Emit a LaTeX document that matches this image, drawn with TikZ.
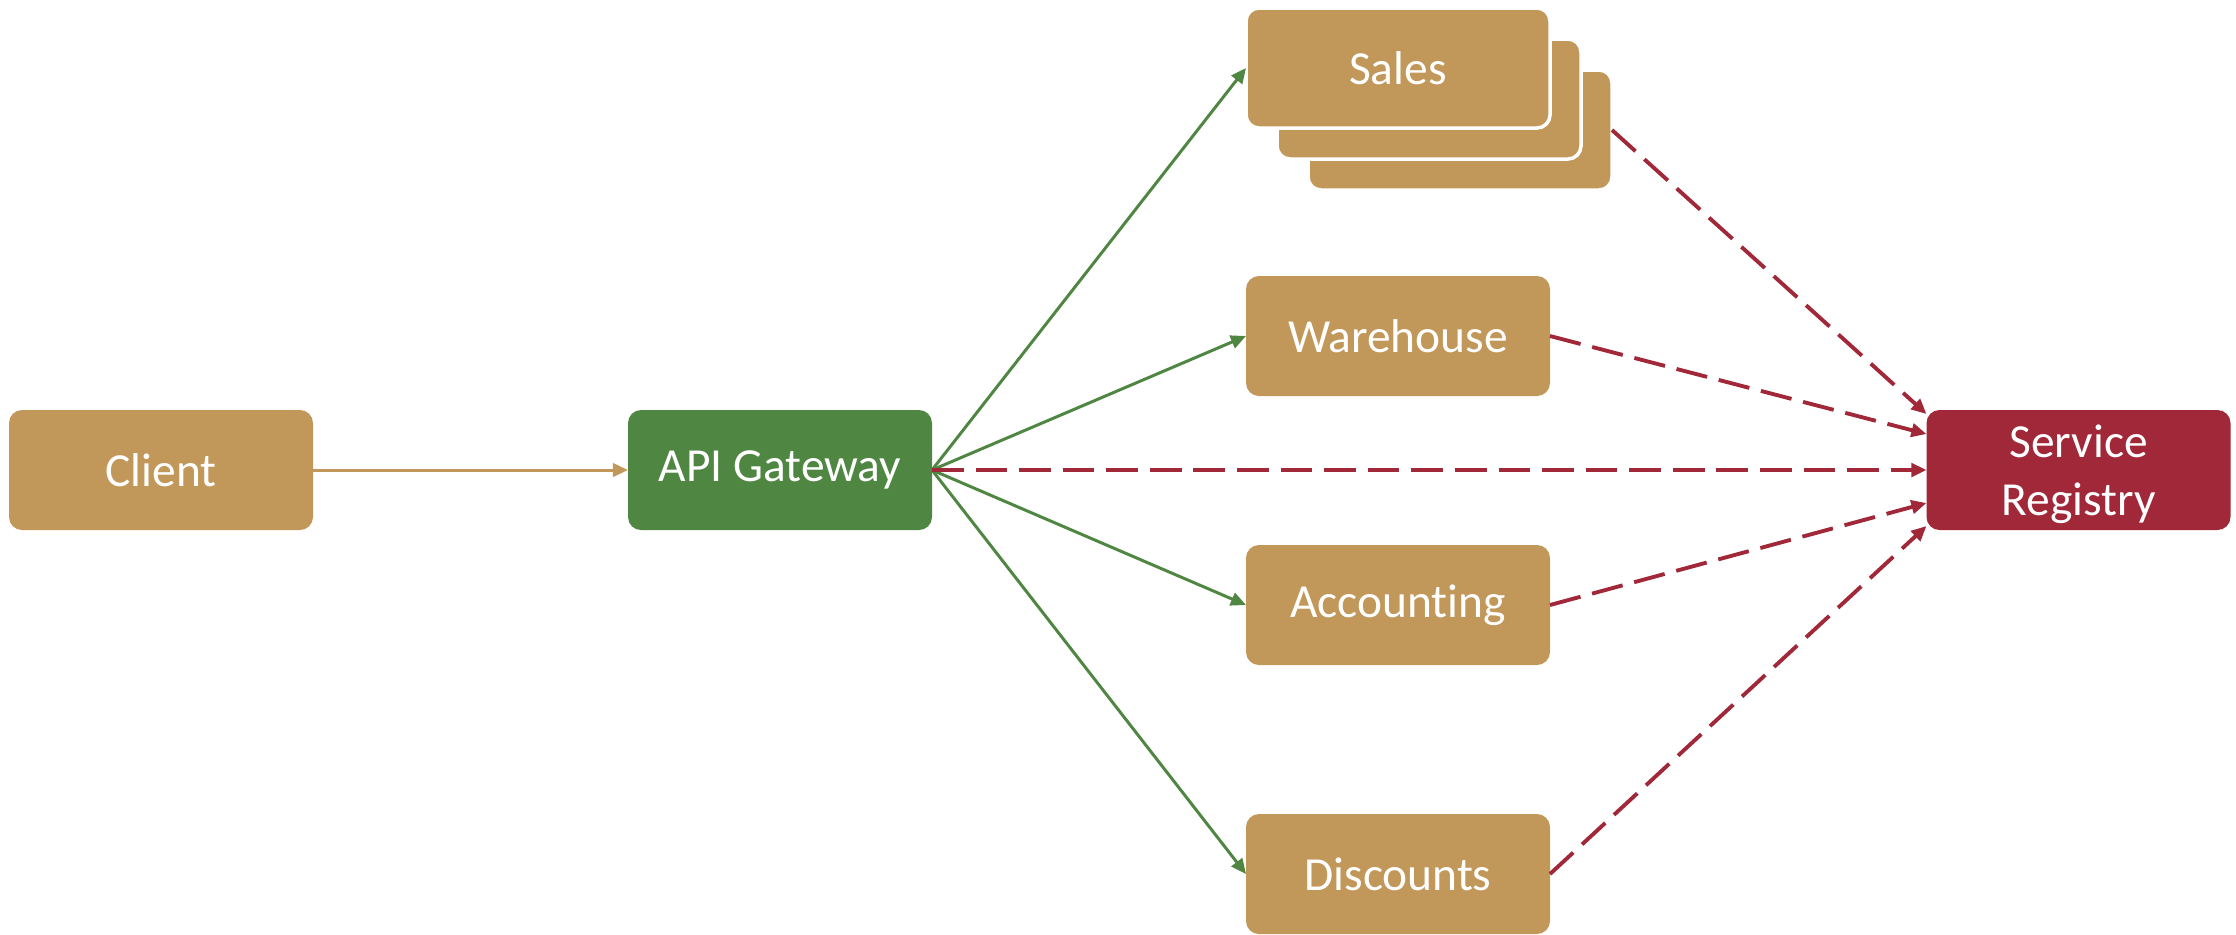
\documentclass[tikz,border=0pt]{standalone}
\usepackage{fontspec}
\setmainfont{Carlito}[Ligatures=NoCommon]
\usepackage{xcolor}
\usepackage{tikz}
\usetikzlibrary{positioning,calc,arrows.meta}

\definecolor{tan}{HTML}{C19859}
\definecolor{gwgreen}{HTML}{4F8742}
\definecolor{regred}{HTML}{A02838}

\tikzset{
    box/.style={rectangle, rounded corners=0.13cm, minimum width=3.04cm, minimum height=1.2cm,
        outer sep=0pt, text=white, align=center, font=\fontsize{13.5}{16.5}\selectfont},
    svc/.style={box, fill=tan},
    stacked/.style={svc, draw=white, line width=1pt},
    gw/.style={box, fill=gwgreen},
    reg/.style={box, fill=regred, text depth=0pt},
    route/.style={draw=gwgreen, line width=0.85pt, -{Triangle[length=4.3pt,width=3.8pt]}},
    call/.style={draw=tan, line width=0.85pt, -{Triangle[length=4.3pt,width=3.8pt]}},
    announce/.style={draw=regred, line width=1.1pt, dash pattern=on 9pt off 3.4pt,
        -{Triangle[length=4.3pt,width=3.8pt]}}
}

\begin{document}
\begin{tikzpicture}
    \useasboundingbox (0,0) rectangle (22.36,-9.34);

    % Client and gateway
    \node [svc] (client) at (1.61,-4.70) {Client};
    \node [gw, right=3.15cm of client] (gateway) {API Gateway};

    % Services
    \node [svc, right=3.14cm of gateway, yshift=1.34cm] (warehouse) {Warehouse};
    \node [svc, below=1.49cm of warehouse] (accounting) {Accounting};
    \node [svc, below=1.49cm of accounting] (discounts) {Discounts};

    % Sales instances (back to front)
    \node [stacked] (sales3) at ($(warehouse)+(0.62,2.06)$) {};
    \node [stacked] (sales2) at ($(sales3)+(-0.31,0.31)$) {};
    \node [stacked] (sales) at ($(sales3)+(-0.62,0.62)$) {Sales};

    % Registry
    \node [reg] (registry) at (20.785,-4.70) {Service\\Registry};

    % Requests
    \draw [call] (client.east) -- (gateway.west);
    \draw [route] (gateway.east) -- (sales.west);
    \draw [route] (gateway.east) -- (warehouse.west);
    \draw [route] (gateway.east) -- (accounting.west);
    \draw [route] (gateway.east) -- (discounts.west);

    % Registration
    \draw [announce] (sales3.east) -- ([yshift=0.56cm]registry.west);
    \draw [announce] (warehouse.east) -- ([yshift=0.36cm]registry.west);
    \draw [announce] (gateway.east) -- (registry.west);
    \draw [announce] (accounting.east) -- ([yshift=-0.33cm]registry.west);
    \draw [announce] (discounts.east) -- ([yshift=-0.56cm]registry.west);
\end{tikzpicture}
\end{document}
